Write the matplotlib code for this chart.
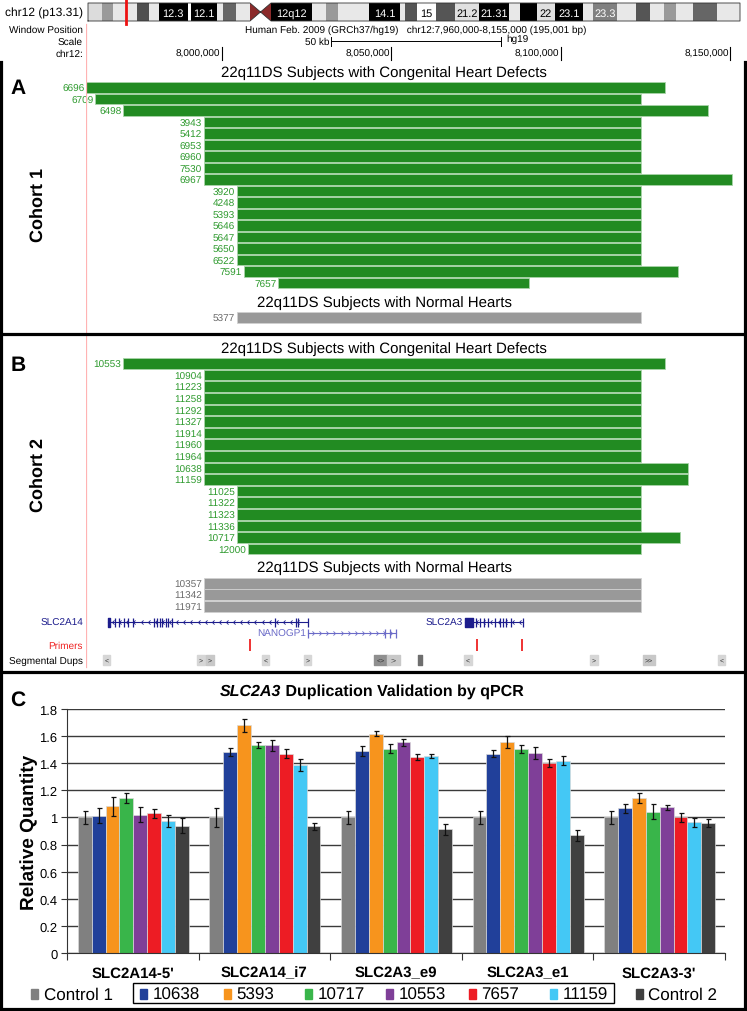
import matplotlib
matplotlib.use('Agg')
import matplotlib.pyplot as plt
from matplotlib.patches import Rectangle, Polygon
from matplotlib.path import Path
import numpy as np

plt.rcParams['font.family'] = ['Liberation Sans', 'DejaVu Sans']
plt.rcParams['text.hinting'] = 'no_hinting'
plt.rcParams['text.hinting_factor'] = 1

W, H = 747, 1012

def fx(x):
    return x / W

def fy(y):
    return 1 - y / H

# ---------------- chr12 ideogram bands ----------------
band_start = [88, 102, 113, 126, 137, 149, 158.5, 188, 190.5, 216.5, 223, 236,
              271, 312, 326, 338, 369, 400, 405, 417, 436, 455, 479, 509, 520,
              537, 555, 583, 593, 617, 636, 650, 664, 676, 693, 717]
band_end = [102, 113, 126, 137, 149, 158.5, 188, 190.5, 216.5, 223, 236, 250,
            312, 326, 338, 369, 400, 405, 417, 436, 455, 479, 509, 520, 537,
            555, 583, 593, 617, 636, 650, 664, 676, 693, 717, 740]
band_color = ['#dcdcdc', '#9a9a9a', '#e8e8e8', '#e8e8e8', '#505050', '#e8e8e8',
              '#000000', '#ffffff', '#000000', '#e8e8e8', '#666666', '#e8e8e8',
              '#000000', '#e8e8e8', '#999999', '#e8e8e8', '#000000', '#e8e8e8',
              '#555555', '#ffffff', '#555555', '#e0e0e0', '#000000', '#e8e8e8',
              '#000000', '#e0e0e0', '#000000', '#e8e8e8', '#808080', '#e8e8e8',
              '#555555', '#e8e8e8', '#999999', '#e8e8e8', '#666666', '#e8e8e8']
band_label = ['', '', '', '', '', '', '12.3', '', '12.1', '', '', '',
              '12q12', '', '', '', '14.1', '', '', '15', '', '21.2', '21.31', '',
              '', '22', '23.1', '', '23.3', '', '', '', '', '', '', '']
centromere = (250, 271)
ideo_marker = 126

# ---------------- browser window ----------------
win_start, win_end = 7960000, 8155000
chr_ticks = [8000000, 8050000, 8100000, 8150000]
chr_tick_labels = ['8,000,000', '8,050,000', '8,100,000', '8,150,000']

# Cohort 1 - heart defects
c1_ids = ['6696', '6709', '6498', '3943', '5412', '6953', '6960', '7530', '6967',
          '3920', '4248', '5393', '5646', '5647', '5650', '6522', '7591', '7657']
c1_start = [7960000, 7962700, 7970900, 7994700, 7994700, 7994700, 7994700, 7994700,
            7994700, 8004400, 8004400, 8004400, 8004400, 8004400, 8004400, 8004400,
            8006500, 8016600]
c1_end = [8130800, 8123700, 8143500, 8123700, 8123700, 8123700, 8123700, 8123700,
          8150600, 8123700, 8123700, 8123700, 8123700, 8123700, 8123700, 8123700,
          8134600, 8090700]
# Cohort 1 - normal hearts
c1n_ids = ['5377']
c1n_start = [8004400]
c1n_end = [8123700]

# Cohort 2 - heart defects
c2_ids = ['10553', '10904', '11223', '11258', '11292', '11327', '11914', '11960',
          '11964', '10638', '11159', '11025', '11322', '11323', '11336', '10717', '12000']
c2_start = [7970900, 7994700, 7994700, 7994700, 7994700, 7994700, 7994700, 7994700,
            7994700, 7994700, 7994700, 8004400, 8004400, 8004400, 8004400, 8004400, 8007800]
c2_end = [8130800, 8123700, 8123700, 8123700, 8123700, 8123700, 8123700, 8123700,
          8123700, 8137600, 8137600, 8123700, 8123700, 8123700, 8123700, 8135200, 8123700]
# Cohort 2 - normal hearts
c2n_ids = ['10357', '11342', '11971']
c2n_start = [7994700, 7994700, 7994700]
c2n_end = [8123700, 8123700, 8123700]

# genes
slc2a14 = (7966500, 8025500)
slc2a14_exons = [7968550, 7969750, 7971200, 7972400, 7973850, 7980050, 7980950,
                 7981850, 7982400, 7983600, 7984200, 7985350, 8015750, 8021950,
                 8022550, 8025500]
nanogp1 = (8025500, 8051450)
nanogp1_exons = [8025500, 8048200, 8049700, 8051450]
slc2a3 = (8071800, 8088900)
slc2a3_exons = [8075000, 8076200, 8077400, 8078600, 8080650, 8082100, 8083000,
                8083900, 8085400, 8088900]
primers = [8008400, 8075350, 8088600]
seg_start = [7965000, 7992750, 7995400, 8011900, 8024300, 8044950, 8048800,
             8057950, 8071500, 8108700, 8124300, 8146450]
seg_end = [7967100, 7995100, 7997750, 8014000, 8026400, 8048800, 8052650,
           8059150, 8073850, 8111050, 8127850, 8148500]
seg_color = ['#d6d6d6', '#d6d6d6', '#c8c8c8', '#d6d6d6', '#d6d6d6', '#8f8f8f',
             '#c8c8c8', '#6e6e6e', '#d6d6d6', '#d6d6d6', '#c8c8c8', '#d6d6d6']
seg_mark = ['<', '>', '>', '<', '>', '<>', ':>', '', '<', '>', '>>', '<']

# ---------------- qPCR ----------------
groups = ["SLC2A14-5'", 'SLC2A14_i7', 'SLC2A3_e9', 'SLC2A3_e1', "SLC2A3-3'"]
series = ['Control 1', '10638', '5393', '10717', '10553', '7657', '11159', 'Control 2']
colors = ['#808080', '#21409a', '#f7941d', '#39b54a', '#7f3f98', '#ed1c24', '#44c8f5', '#404040']
vals = [
    [1.00, 1.00, 1.00, 1.00, 1.00],
    [1.012, 1.483, 1.49, 1.47, 1.069],
    [1.081, 1.681, 1.618, 1.559, 1.142],
    [1.147, 1.534, 1.507, 1.507, 1.042],
    [1.02, 1.532, 1.554, 1.478, 1.074],
    [1.03, 1.47, 1.446, 1.40, 1.0],
    [0.975, 1.387, 1.453, 1.42, 0.963],
    [0.94, 0.935, 0.912, 0.868, 0.96],
]
errs = [
    [0.045, 0.068, 0.045, 0.045, 0.045],
    [0.055, 0.028, 0.034, 0.027, 0.033],
    [0.067, 0.048, 0.02, 0.044, 0.037],
    [0.037, 0.023, 0.033, 0.03, 0.057],
    [0.055, 0.04, 0.027, 0.044, 0.02],
    [0.033, 0.035, 0.02, 0.028, 0.035],
    [0.045, 0.045, 0.018, 0.032, 0.034],
    [0.057, 0.027, 0.043, 0.043, 0.028],
]
ytick_vals = [0, 0.2, 0.4, 0.6, 0.8, 1.0, 1.2, 1.4, 1.6, 1.8]
ytick_labels = ['0', '0.2', '0.4', '0.6', '0.8', '1', '1.2', '1.4', '1.6', '1.8']

fig = plt.figure(figsize=(7.47, 10.12), dpi=100)

# ---------------- ideogram ----------------
axi = fig.add_axes([fx(88), fy(22), fx(740) - fx(88), fy(4) - fy(22)])
axi.set_xlim(88, 740)
axi.set_ylim(0, 1)
axi.axis('off')
axi.bar(band_start, 1, width=np.array(band_end) - np.array(band_start), bottom=0,
        align='edge', color=band_color, lw=0)
for s, e, c, lab in zip(band_start, band_end, band_color, band_label):
    if lab:
        dark = c in ('#000000', '#808080')
        axi.text((s + e) / 2, 0.45, lab, ha='center', va='center', fontsize=7.8,
                 color='white' if dark else 'black')
cs, ce = centromere
cm = (cs + ce) / 2
axi.add_patch(Polygon([(cs, 0), (cs, 1), (cm, 0.5)], closed=True, color='#8b2a2a', lw=0))
axi.add_patch(Polygon([(ce, 0), (ce, 1), (cm, 0.5)], closed=True, color='#8b2a2a', lw=0))
axi.plot([88, cs, cm, ce, 740, 740, ce, cm, cs, 88, 88],
         [0, 0, 0.5, 0, 0, 1, 1, 0.5, 1, 1, 0], color='#333333', lw=0.6, clip_on=False)
axi.plot([ideo_marker, ideo_marker], [-0.15, 1.15], color='#ee1111', lw=2, clip_on=False)
fig.text(fx(83), fy(13), 'chr12 (p13.31)', ha='right', va='center', fontsize=8.3)

# ---------------- browser ----------------
axg = fig.add_axes([fx(86), fy(673), fx(747) - fx(86), fy(0) - fy(673)])
axg.set_xlim(win_start, win_end)
axg.set_ylim(673, 0)
axg.axis('off')
bp_px = (win_end - win_start) / 661.0

axg.plot([win_start + 100, win_start + 100], [25, 668], color='#ffb3b3', lw=0.9, zorder=5)

hdr_fs = 7.3
fig.text(fx(83), fy(30), 'Window Position', ha='right', va='center', fontsize=hdr_fs)
fig.text(fx(83), fy(42), 'Scale', ha='right', va='center', fontsize=hdr_fs)
fig.text(fx(83), fy(54), 'chr12:', ha='right', va='center', fontsize=hdr_fs)
axg.text(win_start + 330 * bp_px, 30,
         'Human Feb. 2009 (GRCh37/hg19)   chr12:7,960,000-8,155,000 (195,001 bp)',
         ha='center', va='center', fontsize=hdr_fs)
sb0, sb1 = 8032300, 8082300
axg.plot([sb0, sb1], [42, 42], color='black', lw=0.7)
axg.plot([sb0, sb0], [38, 47], color='black', lw=0.7)
axg.plot([sb1, sb1], [38, 47], color='black', lw=0.7)
axg.text(sb0 - 400, 42, '50 kb', ha='right', va='center', fontsize=hdr_fs)
axg.text(sb1 + 1800, 39.5, 'hg19', ha='left', va='center', fontsize=hdr_fs)
for t, lab in zip(chr_ticks, chr_tick_labels):
    axg.plot([t, t], [48, 61], color='black', lw=0.8)
    axg.text(t - 350, 54, lab, ha='right', va='center', fontsize=hdr_fs)

title_x = win_start + 298 * bp_px
green, green_txt, green_edge = '#228b22', '#2e9a2e', '#a8d4a8'
gray, gray_txt, gray_edge = '#999999', '#6a6a6a', '#d0d0d0'


def draw_rows(ids, starts, ends, top, pitch, col, edge, tcol):
    ys = top + pitch * np.arange(len(ids)) + 5.25
    axg.barh(ys, np.array(ends) - np.array(starts), left=starts, height=10.6,
             color=col, edgecolor=edge, lw=0.6)
    for y, s, lab in zip(ys, starts, ids):
        axg.text(max(s, win_start) - 450, y + 3.6, lab, ha='right', va='baseline',
                 fontsize=7, color=tcol, clip_on=False)


ttl_fs = 10.7
axg.text(title_x, 73, '22q11DS Subjects with Congenital Heart Defects', ha='center',
         va='center', fontsize=ttl_fs)
draw_rows(c1_ids, c1_start, c1_end, 83.3, 11.5, green, green_edge, green_txt)
axg.text(title_x, 303, '22q11DS Subjects with Normal Hearts', ha='center',
         va='center', fontsize=ttl_fs)
draw_rows(c1n_ids, c1n_start, c1n_end, 313.3, 11.5, gray, gray_edge, gray_txt)

axg.text(title_x, 349, '22q11DS Subjects with Congenital Heart Defects', ha='center',
         va='center', fontsize=ttl_fs)
draw_rows(c2_ids, c2_start, c2_end, 359.3, 11.6, green, green_edge, green_txt)
axg.text(title_x, 568, '22q11DS Subjects with Normal Hearts', ha='center',
         va='center', fontsize=ttl_fs)
draw_rows(c2n_ids, c2n_start, c2n_end, 579, 11.5, gray, gray_edge, gray_txt)

# gene tracks
chev_l = Path([(0.5, 1), (-0.5, 0), (0.5, -1)], [Path.MOVETO, Path.LINETO, Path.LINETO])
chev_r = Path([(-0.5, 1), (0.5, 0), (-0.5, -1)], [Path.MOVETO, Path.LINETO, Path.LINETO])
navy, lav = '#1c1c8c', '#6b6bc8'


def draw_gene(span, exons, y, col, chev, block=None):
    axg.plot(span, [y, y], color=col, lw=0.8)
    axg.vlines(exons, y - 4.5, y + 4.5, color=col, lw=0.9)
    xs = np.arange(span[0] + 1500, span[1] - 800, 2100)
    axg.plot(xs, np.full(len(xs), y), ls='none', marker=chev, ms=3.0,
             mfc='none', mec=col, mew=0.6)
    if block:
        axg.broken_barh([(block[0], block[1] - block[0])], (y - 4.5, 9), color=col)


gy1, gy2 = 623, 634
draw_gene(slc2a14, slc2a14_exons, gy1, navy, chev_l, (slc2a14[0], slc2a14[0] + 700))
draw_gene(nanogp1, nanogp1_exons, gy2, lav, chev_r)
draw_gene(slc2a3, slc2a3_exons, gy1, navy, chev_l, (slc2a3[0], slc2a3[0] + 2300))
axg.text(slc2a3[0] - 700, gy1, 'SLC2A3', ha='right', va='center', fontsize=7, color=navy)
axg.text(nanogp1[0] - 500, gy2 + 0.5, 'NANOGP1', ha='right', va='center', fontsize=7, color=lav)
fig.text(fx(83), fy(gy1), 'SLC2A14', ha='right', va='center', fontsize=7.2, color=navy)

axg.vlines(primers, 640, 652, color='#ee2222', lw=1.3)
fig.text(fx(83), fy(646), 'Primers', ha='right', va='center', fontsize=7.2, color='#ee2222')

for s, e, c, m in zip(seg_start, seg_end, seg_color, seg_mark):
    axg.broken_barh([(s, e - s)], (656, 10), color=c)
    if m:
        axg.text((s + e) / 2, 661, m, ha='center', va='center', fontsize=5, color='#333333')
fig.text(fx(83), fy(661), 'Segmental Dups', ha='right', va='center', fontsize=7.2)

# panel labels
for lab, y in zip(['A', 'B', 'C'], [89, 366, 700]):
    fig.text(fx(18), fy(y), lab, ha='center', va='center', fontsize=15, fontweight='bold')
fig.text(fx(38), fy(205), 'Cohort 1', rotation=90, ha='center', va='center',
         fontsize=13, fontweight='bold')
fig.text(fx(38), fy(475), 'Cohort 2', rotation=90, ha='center', va='center',
         fontsize=13, fontweight='bold')

# frames
lw_f = 2.3
for x0, y0, x1, y1 in [(1.5, 63, 1.5, 1010), (745, 63, 745, 1010), (1.5, 335, 745, 335),
                       (1.5, 673, 745, 673), (1.5, 1010, 745, 1010)]:
    fig.add_artist(plt.Line2D([fx(x0), fx(x1)], [fy(y0), fy(y1)], color='black',
                              lw=lw_f, transform=fig.transFigure))

# ---------------- qPCR bar chart ----------------
axc = fig.add_axes([fx(67), fy(954), fx(725) - fx(67), fy(710) - fy(954)])
xg = np.arange(len(groups))
bw = 0.1055
for j, (v, e, c) in enumerate(zip(vals, errs, colors)):
    xs = xg + 0.082 + bw * j + bw / 2
    axc.bar(xs, v, bw, yerr=e, color=c, edgecolor='#dadada', lw=0.5, capsize=1.8,
            error_kw=dict(elinewidth=0.9, capthick=0.9, ecolor='#111111'), label=series[j])
axc.set_xlim(0, len(groups))
axc.set_ylim(0, 1.8)
axc.set_axisbelow(True)
axc.yaxis.grid(True, color='#3a3a3a', lw=1)
axc.set_yticks(ytick_vals)
axc.set_yticklabels(ytick_labels)
axc.set_xticks(np.arange(len(groups) + 1))
axc.set_xticklabels([])
axc.set_xticks(xg + 0.5, minor=True)
axc.set_xticklabels(groups, minor=True, fontweight='bold', fontsize=11)
axc.tick_params(axis='x', which='minor', length=0, pad=9)
axc.tick_params(axis='x', which='major', length=5, color='#333333')
axc.tick_params(axis='y', length=4, labelsize=9.7, color='#333333', pad=3)
for sp in ['top', 'right']:
    axc.spines[sp].set_visible(False)
for sp in ['left', 'bottom']:
    axc.spines[sp].set_color('#333333')
fig.text(fx(29), fy(832), 'Relative Quantity', rotation=90, ha='center', va='center',
         fontsize=14, fontweight='bold')

fig.text(fx(281), fy(692), 'SLC2A3', ha='right', va='center', fontsize=11.5,
         fontweight='bold', style='italic')
fig.text(fx(281), fy(692), ' Duplication Validation by qPCR', ha='left', va='center',
         fontsize=11.5, fontweight='bold')

# legend
leg_x = [31, 140, 224, 305, 386, 469, 550, 636]
for x, name, c in zip(leg_x, series, colors):
    fig.add_artist(Rectangle((fx(x), fy(1000)), 7 / W, 10 / H, color=c,
                             transform=fig.transFigure))
    fig.text(fx(x + 12.5), fy(995), name, ha='left', va='center', fontsize=12)
fig.add_artist(Rectangle((fx(133), fy(1004)), 481 / W, 20 / H, fill=False,
                         ec='black', lw=1, transform=fig.transFigure))

fig.savefig('out.png', dpi=100)
